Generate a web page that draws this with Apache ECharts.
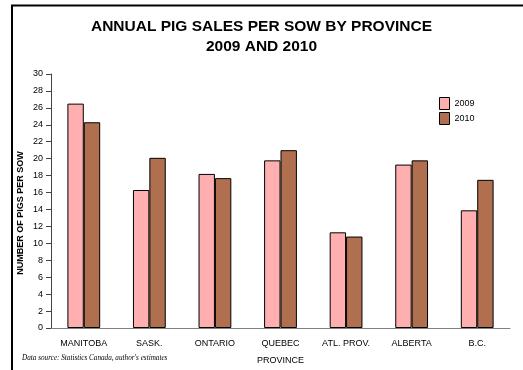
<!DOCTYPE html>
<html>
<head>
<meta charset="utf-8">
<script src="https://cdn.jsdelivr.net/npm/echarts@6/dist/echarts.min.js"></script>
<style>html,body{margin:0;padding:0;background:#fff;}#c{width:523px;height:370px;}</style>
</head>
<body>
<div id="c"></div>
<script>
var categories = ['MANITOBA', 'SASK.', 'ONTARIO', 'QUEBEC', 'ATL. PROV.', 'ALBERTA', 'B.C.'];
var sales2009 = [26.5, 16.3, 18.2, 19.8, 11.3, 19.3, 13.9];
var sales2010 = [24.3, 20.1, 17.7, 21.0, 10.8, 19.8, 17.5];
var seriesNames = ['2009', '2010'];

var chart = echarts.init(document.getElementById('c'), null, {renderer: 'canvas'});
var font = '"Liberation Sans", Arial, sans-serif';
chart.setOption({
  animation: false,
  backgroundColor: '#fff',
  title: {
    text: 'ANNUAL PIG SALES PER SOW BY PROVINCE\n2009 AND 2010',
    left: 'center', top: 12,
    textStyle: {fontFamily: font, fontWeight: 'bold', fontSize: 15.5, lineHeight: 20, color: '#000'}
  },
  legend: {
    orient: 'vertical', left: 434, top: 92, itemWidth: 10, itemHeight: 12, itemGap: 2,
    icon: 'rect',
    data: seriesNames,
    textStyle: {fontFamily: font, fontSize: 9, color: '#000'},
    itemStyle: {borderColor: '#000', borderWidth: 1}
  },
  grid: {left: 51, right: 13, top: 74, height: 255, containLabel: false},
  xAxis: {
    type: 'category', data: categories,
    name: 'PROVINCE', nameLocation: 'middle', nameGap: 28,
    nameTextStyle: {fontFamily: font, fontSize: 9, color: '#000'},
    axisLine: {lineStyle: {color: '#808080', width: 1}},
    axisTick: {alignWithLabel: true, length: 5, lineStyle: {color: '#000'}},
    axisLabel: {fontFamily: font, fontSize: 9, color: '#000', margin: 11, interval: 0}
  },
  yAxis: {
    type: 'value', min: 0, max: 30, interval: 2,
    axisLine: {show: true, lineStyle: {color: '#444', width: 1}},
    axisTick: {show: true, length: 5, lineStyle: {color: '#444'}},
    axisLabel: {fontFamily: font, fontSize: 9, color: '#000', margin: 8},
    splitLine: {show: false}
  },
  series: [
    {name: seriesNames[0], type: 'bar', data: sales2009, barGap: '0%', barCategoryGap: '50%',
     itemStyle: {color: '#FFAFAF', borderColor: '#000', borderWidth: 1}},
    {name: seriesNames[1], type: 'bar', data: sales2010, barGap: '0%', barCategoryGap: '50%',
     itemStyle: {color: '#B07050', borderColor: '#000', borderWidth: 1}}
  ],
  graphic: [
    {type: 'rect', shape: {x: 12, y: 5.5, width: 700, height: 600}, style: {fill: 'none', stroke: '#000', lineWidth: 2}, silent: true},
    {type: 'text', x: 21, y: 213, rotation: Math.PI / 2,
     style: {text: 'NUMBER OF PIGS PER SOW', fontFamily: font, fontWeight: 'bold', fontSize: 9, fill: '#000', align: 'center', verticalAlign: 'middle'}},
    {type: 'text', x: 22, y: 358,
     style: {text: "Data source: Statistics Canada, author's estimates", fontFamily: '"Liberation Serif", "Times New Roman", serif', fontStyle: 'italic', fontSize: 7.2, fill: '#000', align: 'left', verticalAlign: 'middle'}}
  ]
});
</script>
</body>
</html>
